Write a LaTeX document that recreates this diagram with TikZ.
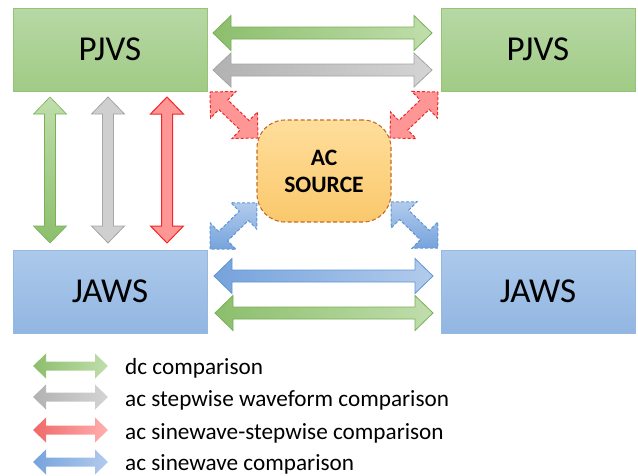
\documentclass[tikz,border=0pt]{standalone}
\usepackage{fontspec}
\setmainfont{Carlito}
\usetikzlibrary{calc}

\definecolor{grnTop}{RGB}{183,216,165}
\definecolor{grnBot}{RGB}{160,203,133}
\definecolor{grnLine}{RGB}{150,195,118}
\definecolor{bluTop}{RGB}{172,201,235}
\definecolor{bluBot}{RGB}{146,182,226}
\definecolor{bluLine}{RGB}{150,185,226}
\definecolor{arGrnD}{RGB}{140,190,108}
\definecolor{arGrnL}{RGB}{192,222,172}
\definecolor{arGrnO}{RGB}{120,176,86}
\definecolor{arGryD}{RGB}{178,178,178}
\definecolor{arGryL}{RGB}{212,212,212}
\definecolor{arGryO}{RGB}{165,165,165}
\definecolor{arBluD}{RGB}{118,163,220}
\definecolor{arBluL}{RGB}{178,203,236}
\definecolor{arBluO}{RGB}{95,150,212}
\definecolor{arRedF}{RGB}{255,150,150}
\definecolor{arRedD}{RGB}{240,105,105}
\definecolor{arRedL}{RGB}{255,175,175}
\definecolor{arRedO}{RGB}{240,40,40}
\definecolor{srcTop}{RGB}{255,222,155}
\definecolor{srcBot}{RGB}{250,200,108}
\definecolor{srcLine}{RGB}{196,108,40}

% block double arrow between two named points:
% #1 style, #2 tail point, #3 head point, #4 shaft half width,
% #5 head half width, #6 head length
\newcommand\fatarrow[6]{%
  \path[#1] let \p1=($(#3)-(#2)$), \n1={atan2(\y1,\x1)} in
    (#2)
    -- ($(#2)+(\n1:#6)+(\n1+90:#5)$)
    -- ($(#2)+(\n1:#6)+(\n1+90:#4)$)
    -- ($(#3)+(\n1+180:#6)+(\n1+90:#4)$)
    -- ($(#3)+(\n1+180:#6)+(\n1+90:#5)$)
    -- (#3)
    -- ($(#3)+(\n1+180:#6)+(\n1-90:#5)$)
    -- ($(#3)+(\n1+180:#6)+(\n1-90:#4)$)
    -- ($(#2)+(\n1:#6)+(\n1-90:#4)$)
    -- ($(#2)+(\n1:#6)+(\n1-90:#5)$)
    -- cycle;}

\tikzset{
  unitbox/.style={rectangle, minimum width=194pt, minimum height=83pt,
    inner sep=0pt, line width=0.8pt, font=\fontsize{35}{40}\selectfont},
  pjvsbox/.style={unitbox, draw=grnLine, top color=grnTop, bottom color=grnBot},
  jawsbox/.style={unitbox, draw=bluLine, top color=bluTop, bottom color=bluBot},
  sourcebox/.style={rectangle, rounded corners=28pt, minimum width=134pt,
    minimum height=102pt, inner sep=0pt, draw=srcLine, line width=1.1pt,
    dash pattern=on 4pt off 2.5pt, top color=srcTop, bottom color=srcBot,
    align=center, font=\fontsize{23.5}{27}\selectfont\bfseries},
  hgreen/.style={draw=arGrnO, line width=0.8pt, left color=arGrnD, right color=arGrnL},
  hgray/.style={draw=arGryO, line width=0.8pt, left color=arGryD, right color=arGryL},
  hblue/.style={draw=arBluO, line width=0.8pt, left color=arBluD, right color=arBluL},
  vgreen/.style={draw=arGrnO, line width=0.6pt, top color=arGrnL, bottom color=arGrnD},
  vgray/.style={draw=arGryO, line width=0.8pt, fill=arGryL!85!arGryD},
  vred/.style={draw=arRedO, line width=1pt, fill=arRedF},
  dred/.style={draw=arRedO, line width=1pt, dash pattern=on 3pt off 2pt, fill=arRedF},
  dblue/.style={draw=arBluO, line width=1pt, dash pattern=on 3pt off 2pt,
    top color=arBluL, bottom color=arBluD},
  lgreen/.style={left color=arGrnD, right color=arGrnL},
  lgray/.style={left color=arGryD, right color=arGryL},
  lred/.style={left color=arRedD, right color=arRedL},
  lblue/.style={left color=arBluD, right color=arBluL},
  legendtext/.style={anchor=base west, inner sep=0pt, font=\fontsize{23.2}{27}\selectfont}
}

\begin{document}
\begin{tikzpicture}[x=1pt, y=-1pt]
  \useasboundingbox (0,0) rectangle (638,475);

  % standards and source
  \node[pjvsbox] (pjvsL) at (110,49.5) {PJVS};
  \node[pjvsbox] (pjvsR) at (538,49.5) {PJVS};
  \node[jawsbox] (jawsL) at (110,291.5) {JAWS};
  \node[jawsbox] (jawsR) at (538,291.5) {JAWS};
  \node[sourcebox] (src) at (324,171) {AC\\SOURCE};

  % arrow end points
  \coordinate (tg1) at (213,33);  \coordinate (tg2) at (432,33);
  \coordinate (ty1) at (213,70);  \coordinate (ty2) at (432,70);
  \coordinate (bb1) at (214,276); \coordinate (bb2) at (433,276);
  \coordinate (bg1) at (215,313); \coordinate (bg2) at (433,313);
  \coordinate (vg1) at (50,97);   \coordinate (vg2) at (50,243);
  \coordinate (vy1) at (108,97);  \coordinate (vy2) at (108,243);
  \coordinate (vr1) at (167,97);  \coordinate (vr2) at (167,243);
  \coordinate (ru1) at (210,92);  \coordinate (ru2) at (258,138);
  \coordinate (rv1) at (438,92);  \coordinate (rv2) at (390,138);
  \coordinate (bl1) at (210,249); \coordinate (bl2) at (257,203);
  \coordinate (br1) at (391,202); \coordinate (br2) at (438,248);

  % comparisons between the standards
  \fatarrow{hgreen}{tg1}{tg2}{6pt}{17.5pt}{18pt}
  \fatarrow{hgray}{ty1}{ty2}{6pt}{17pt}{18pt}
  \fatarrow{hblue}{bb1}{bb2}{6pt}{17.5pt}{18pt}
  \fatarrow{hgreen}{bg1}{bg2}{6pt}{17.5pt}{18pt}
  \fatarrow{vgreen}{vg1}{vg2}{5.5pt}{16.5pt}{17pt}
  \fatarrow{vgray}{vy1}{vy2}{5.5pt}{16.5pt}{17pt}
  \fatarrow{vred}{vr1}{vr2}{5.5pt}{16.5pt}{17pt}

  % links to the ac source
  \fatarrow{dred}{ru1}{ru2}{6.5pt}{18.4pt}{18.4pt}
  \fatarrow{dred}{rv1}{rv2}{6.5pt}{18.4pt}{18.4pt}
  \fatarrow{dblue}{bl1}{bl2}{6.5pt}{18.4pt}{18.4pt}
  \fatarrow{dblue}{br1}{br2}{6.5pt}{18.4pt}{18.4pt}

  % legend
  \coordinate (lg1) at (33,366); \coordinate (lg2) at (108,366);
  \coordinate (ly1) at (33,397); \coordinate (ly2) at (108,397);
  \coordinate (lr1) at (33,430); \coordinate (lr2) at (108,430);
  \coordinate (lb1) at (33,462); \coordinate (lb2) at (108,462);
  \fatarrow{lgreen}{lg1}{lg2}{4.5pt}{12.5pt}{13pt}
  \fatarrow{lgray}{ly1}{ly2}{4.5pt}{12.5pt}{13pt}
  \fatarrow{lred}{lr1}{lr2}{4.5pt}{12.5pt}{13pt}
  \fatarrow{lblue}{lb1}{lb2}{4.5pt}{12.5pt}{13pt}
  \node[legendtext] (t1) at (125,374) {dc comparison};
  \node[legendtext] (t2) at (125,406) {ac stepwise waveform comparison};
  \node[legendtext] (t3) at (125,439) {ac sinewave-stepwise comparison};
  \node[legendtext] (t4) at (125,470) {ac sinewave comparison};
\end{tikzpicture}
\end{document}
